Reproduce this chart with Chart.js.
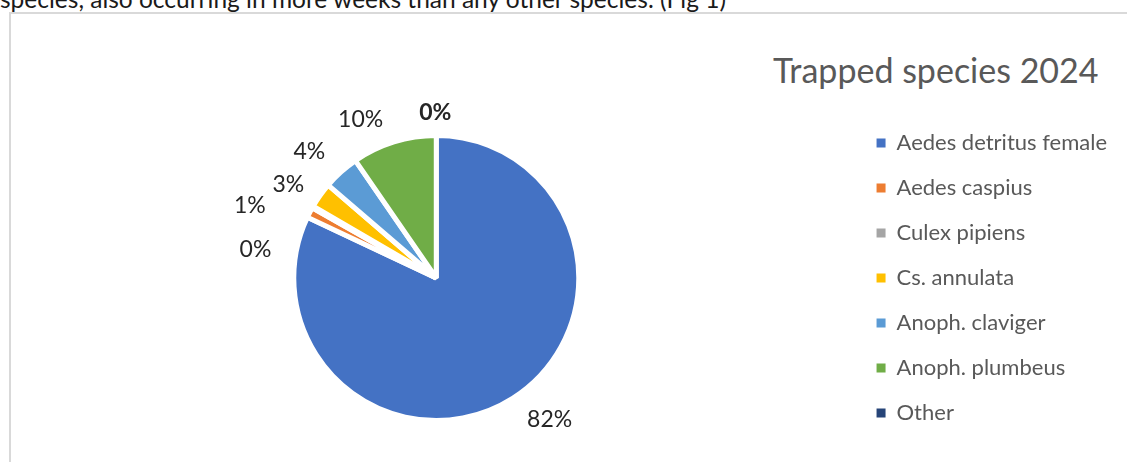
<!DOCTYPE html>
<html>
<head>
<meta charset="utf-8">
<script src="https://cdn.jsdelivr.net/npm/chart.js@4.4.1/dist/chart.umd.min.js"></script>
<style>
  html, body { margin: 0; padding: 0; background: #fff; overflow: hidden; }
  body { width: 1127px; height: 462px; position: relative; font-family: Lato, "Open Sans", sans-serif; }
  #caption { position: absolute; left: 0; top: -16px; font-size: 24.5px; line-height: 30px; color: #1a1a1a; white-space: nowrap; }
  #frame { position: absolute; left: 9px; top: 12px; width: 1200px; height: 500px; border-top: 2px solid #d9d9d9; border-left: 2px solid #d9d9d9; }
  #title { position: absolute; left: 773px; top: 49px; font-size: 34px; color: #595959; white-space: nowrap; }
  #chart { position: absolute; left: 0; top: 0; }
</style>
</head>
<body>
<div id="caption">species, also occurring in more weeks than any other species. (Fig 1)</div>
<div id="frame"></div>
<div id="title">Trapped species 2024</div>
<canvas id="chart" width="1127" height="462"></canvas>
<script>
/* pie — trapped species 2024 */

const species = ["Aedes detritus female", "Aedes caspius", "Culex pipiens", "Cs. annulata",
                 "Anoph. claviger", "Anoph. plumbeus", "Other"];
const shares  = [82.0, 1.2, 0.2, 2.9, 4.1, 9.6, 0.0];
const colours = ["#4472C4", "#ED7D31", "#A5A5A5", "#FFC000", "#5B9BD5", "#70AD47", "#264478"];

// label placement nudges (px) to mimic Excel's best-fit layout
const labelNudge = [[22, -2], [-35, 6], [-33, 57], [-9, 5], [-13, 0], [-25, 4], [-1, 5]];
const boldLabel  = [false, false, false, false, false, false, true];

const pctLabels = {
  id: "pctLabels",
  afterDatasetsDraw(chart) {
    const ctx = chart.ctx;
    const data = chart.data.datasets[0].data;
    const total = data.reduce((a, b) => a + b, 0);
    const arcs = chart.getDatasetMeta(0).data;
    ctx.save();
    ctx.fillStyle = "#262626";
    ctx.textAlign = "center";
    ctx.textBaseline = "middle";
    arcs.forEach((arc, i) => {
      const p = arc.getProps(["x", "y", "startAngle", "endAngle", "outerRadius"], true);
      const mid = (p.startAngle + p.endAngle) / 2;
      const r = p.outerRadius + 28;
      const x = p.x + Math.cos(mid) * r + labelNudge[i][0];
      const y = p.y + Math.sin(mid) * r + labelNudge[i][1];
      ctx.font = (boldLabel[i] ? "bold " : "") + "23px Lato";
      ctx.fillText(Math.round(data[i] / total * 100) + "%", x, y);
    });
    ctx.restore();
  }
};

new Chart(document.getElementById("chart").getContext("2d"), {
  type: "pie",
  data: {
    labels: species,
    datasets: [{
      data: shares,
      backgroundColor: colours,
      borderColor: "#ffffff",
      borderWidth: 5,
      radius: 142.5,
    }],
  },
  options: {
    responsive: false,
    animation: false,
    layout: { padding: { top: 108, bottom: 14, left: 19, right: 10 } },
    plugins: {
      tooltip: { enabled: false },
      title: { display: false },
      legend: {
        position: "right",
        labels: {
          color: "#595959",
          font: { family: "Lato", size: 22 },
          boxWidth: 9,
          boxHeight: 9,
          padding: 23,
          generateLabels(chart) {
            return Chart.overrides.pie.plugins.legend.labels.generateLabels(chart)
              .map(l => Object.assign(l, { lineWidth: 0, strokeStyle: "rgba(0,0,0,0)" }));
          },
        },
      },
    },
  },
  plugins: [pctLabels],
});
</script>
</body>
</html>
